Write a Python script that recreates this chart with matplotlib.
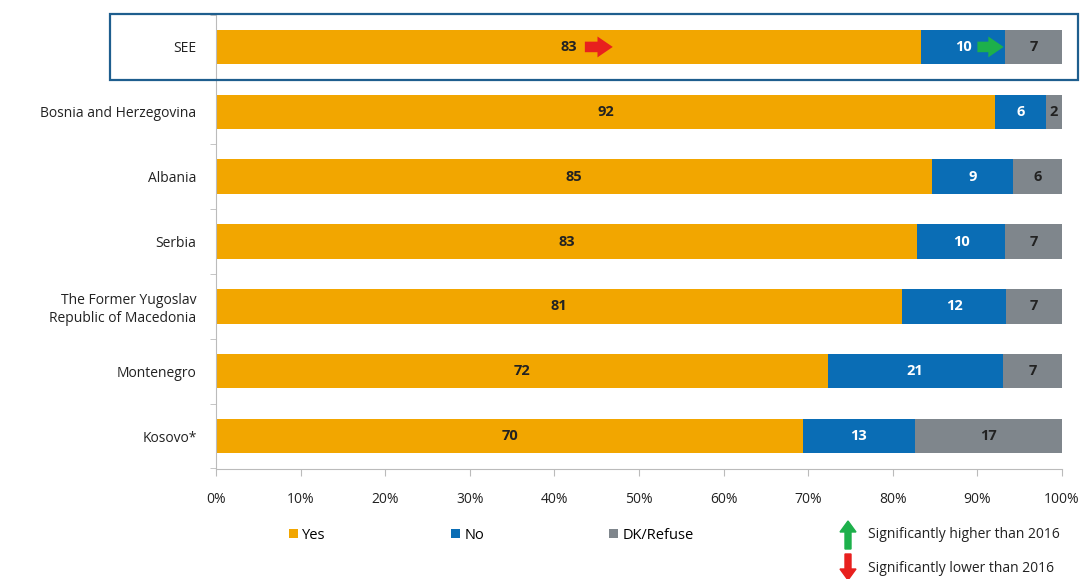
import matplotlib
matplotlib.use("Agg")
import matplotlib.pyplot as plt
from matplotlib.patches import Rectangle, FancyArrow
import numpy as np

# données
pays = ["SEE", "Bosnia and Herzegovina", "Albania", "Serbia",
        "The Former Yugoslav\nRepublic of Macedonia", "Montenegro", "Kosovo*"]
oui = [83.3, 92.1, 84.6, 82.9, 81.1, 72.3, 69.4]
non = [10.0, 6.0, 9.6, 10.4, 12.3, 20.7, 13.2]
nsp = [6.7, 1.9, 5.8, 6.7, 6.6, 7.0, 17.4]
lab_oui = [83, 92, 85, 83, 81, 72, 70]
lab_non = [10, 6, 9, 10, 12, 21, 13]
lab_nsp = [7, 2, 6, 7, 7, 7, 17]
series = ["Yes", "No", "DK/Refuse"]
ticks = [0, 10, 20, 30, 40, 50, 60, 70, 80, 90, 100]

c_oui, c_non, c_nsp = "#F2A600", "#0A6DB5", "#7F868C"

plt.rcParams['font.family'] = ['Open Sans', 'DejaVu Sans']
fig = plt.figure(figsize=(10.9, 5.79), dpi=100)
ax = fig.add_axes([216/1090, 1-468.5/579, 846/1090, 454/579])

y = np.arange(len(pays))
oui = np.array(oui); non = np.array(non); nsp = np.array(nsp)
h = 0.53
ax.barh(y, oui, height=h, color=c_oui, label=series[0])
ax.barh(y, non, left=oui, height=h, color=c_non, label=series[1])
ax.barh(y, nsp, left=oui+non, height=h, color=c_nsp, label=series[2])

for i in range(len(pays)):
    ax.text(oui[i]/2, y[i], str(lab_oui[i]), ha="center", va="center",
            fontsize=10.5, fontweight="bold", color="#222222")
    ax.text(oui[i] + non[i]/2, y[i], str(lab_non[i]), ha="center", va="center",
            fontsize=10.5, fontweight="bold", color="white")
    ax.text(oui[i] + non[i] + nsp[i]/2, y[i], str(lab_nsp[i]), ha="center", va="center",
            fontsize=10.5, fontweight="bold", color="#222222")

# flèches de tendance
style = "simple,head_width=0.75,head_length=0.55,tail_width=0.38"
ax.annotate("", xy=(46.9, 0), xytext=(43.6, 0),
            arrowprops=dict(arrowstyle=style, mutation_scale=20,
                            color="#E8201E", lw=0, shrinkA=0, shrinkB=0))
ax.annotate("", xy=(93.1, 0), xytext=(90.0, 0),
            arrowprops=dict(arrowstyle=style, mutation_scale=20,
                            color="#1DB04B", lw=0, shrinkA=0, shrinkB=0))

ax.set_xlim(0, 100)
ax.set_ylim(len(pays)-0.5, -0.5)
ax.set_yticks(y)
ax.set_yticklabels(pays, fontsize=10, color="#222222")
ax.set_yticks(np.arange(-0.5, len(pays), 1), minor=True)
ax.tick_params(axis="y", which="major", length=0, pad=14)
ax.tick_params(axis="y", which="minor", length=4, color="#BBBBBB")
ax.set_xticks(ticks)
ax.set_xticklabels([f"{t}%" for t in ticks], fontsize=10, color="#222222")
ax.tick_params(axis="x", length=5, color="#BBBBBB", pad=12)
for s in ["top", "right"]:
    ax.spines[s].set_visible(False)
ax.spines["left"].set_color("#BBBBBB")
ax.spines["bottom"].set_color("#BBBBBB")

# cadre autour de SEE
fig.patches.append(Rectangle((110/1090, 1-80/579), 968/1090, 66/579,
                             transform=fig.transFigure, fill=False,
                             edgecolor="#1E5E8E", lw=1.6))

fig.legend(loc="lower left", bbox_to_anchor=(276/1090, 1-556/579), ncol=3,
           frameon=False, fontsize=10.5, handlelength=0.6, handleheight=0.6,
           handletextpad=0.3, columnspacing=8.6)

# légende des flèches
fig.add_artist(FancyArrow(848/1090, 1-549/579, 0, 28/579,
               width=6/1090, head_width=16/1090, head_length=11/579,
               length_includes_head=True, color="#1DB04B", transform=fig.transFigure))
fig.add_artist(FancyArrow(848/1090, 1-554/579, 0, -26/579,
               width=6/1090, head_width=16/1090, head_length=11/579,
               length_includes_head=True, color="#E8201E", transform=fig.transFigure))
fig.text(868/1090, 1-535/579, "Significantly higher than 2016", fontsize=10,
         va="center", color="#222222")
fig.text(868/1090, 1-568/579, "Significantly lower than 2016", fontsize=10,
         va="center", color="#222222")

fig.savefig("out.png", dpi=100)
